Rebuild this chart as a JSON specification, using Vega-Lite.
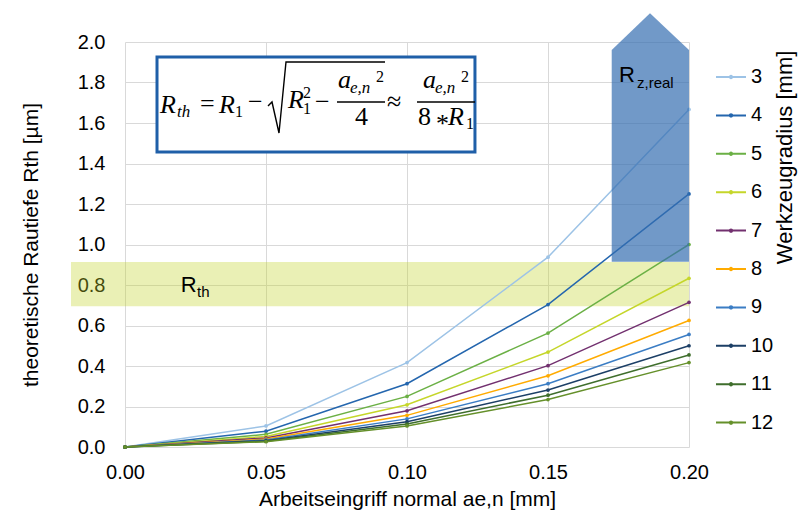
{
  "$schema": "https://vega.github.io/schema/vega-lite/v6.json",
  "autosize": {"type": "none"},
  "padding": {"left": 125, "top": 42, "right": 111, "bottom": 66},
  "width": 564,
  "height": 405,
  "background": "white",
  "config": {
    "view": {"stroke": null},
    "font": "Liberation Sans",
    "axis": {
      "labelFont": "Liberation Sans", "labelFontSize": 20, "labelColor": "#000000",
      "titleFont": "Liberation Sans", "titleFontSize": 21, "titleFontWeight": "normal", "titleColor": "#000000",
      "gridColor": "#d9d9d9", "gridWidth": 1, "domain": false, "ticks": false, "tickSize": 0,
      "labelOverlap": false, "labelFlush": false, "labelBound": false
    }
  },
  "datasets": {
    "lines": [
      {"x": 0, "y": 0, "R": 3}, {"x": 0.05, "y": 0.1042, "R": 3}, {"x": 0.1, "y": 0.4167, "R": 3}, {"x": 0.15, "y": 0.9375, "R": 3}, {"x": 0.2, "y": 1.6667, "R": 3},
      {"x": 0, "y": 0, "R": 4}, {"x": 0.05, "y": 0.0781, "R": 4}, {"x": 0.1, "y": 0.3125, "R": 4}, {"x": 0.15, "y": 0.7031, "R": 4}, {"x": 0.2, "y": 1.25, "R": 4},
      {"x": 0, "y": 0, "R": 5}, {"x": 0.05, "y": 0.0625, "R": 5}, {"x": 0.1, "y": 0.25, "R": 5}, {"x": 0.15, "y": 0.5625, "R": 5}, {"x": 0.2, "y": 1.0, "R": 5},
      {"x": 0, "y": 0, "R": 6}, {"x": 0.05, "y": 0.0521, "R": 6}, {"x": 0.1, "y": 0.2083, "R": 6}, {"x": 0.15, "y": 0.4688, "R": 6}, {"x": 0.2, "y": 0.8333, "R": 6},
      {"x": 0, "y": 0, "R": 7}, {"x": 0.05, "y": 0.0446, "R": 7}, {"x": 0.1, "y": 0.1786, "R": 7}, {"x": 0.15, "y": 0.4018, "R": 7}, {"x": 0.2, "y": 0.7143, "R": 7},
      {"x": 0, "y": 0, "R": 8}, {"x": 0.05, "y": 0.0391, "R": 8}, {"x": 0.1, "y": 0.1563, "R": 8}, {"x": 0.15, "y": 0.3516, "R": 8}, {"x": 0.2, "y": 0.625, "R": 8},
      {"x": 0, "y": 0, "R": 9}, {"x": 0.05, "y": 0.0347, "R": 9}, {"x": 0.1, "y": 0.1389, "R": 9}, {"x": 0.15, "y": 0.3125, "R": 9}, {"x": 0.2, "y": 0.5556, "R": 9},
      {"x": 0, "y": 0, "R": 10}, {"x": 0.05, "y": 0.0313, "R": 10}, {"x": 0.1, "y": 0.125, "R": 10}, {"x": 0.15, "y": 0.2813, "R": 10}, {"x": 0.2, "y": 0.5, "R": 10},
      {"x": 0, "y": 0, "R": 11}, {"x": 0.05, "y": 0.0284, "R": 11}, {"x": 0.1, "y": 0.1136, "R": 11}, {"x": 0.15, "y": 0.2557, "R": 11}, {"x": 0.2, "y": 0.4545, "R": 11},
      {"x": 0, "y": 0, "R": 12}, {"x": 0.05, "y": 0.026, "R": 12}, {"x": 0.1, "y": 0.1042, "R": 12}, {"x": 0.15, "y": 0.2344, "R": 12}, {"x": 0.2, "y": 0.4167, "R": 12}
    ],
    "band": [{"x": -0.01915, "x2": 0.2, "y": 0.6953, "y2": 0.9136}],
    "arrow": [
      {"x": 0.17259, "y": 1.96, "y2": 0.915},
      {"x": 0.18617, "y": 2.1417, "y2": 0.915},
      {"x": 0.2, "y": 1.96, "y2": 0.915}
    ],
    "box": [{"x": 0.01135, "x2": 0.1241, "y": 1.457, "y2": 1.926}],
    "bigR": [{"x": 0.17518, "y": 1.802, "t": "R"}, {"x": 0.0198, "y": 0.765, "t": "R"}],
    "subR": [{"x": 0.18156, "y": 1.773, "t": "z,real"}, {"x": 0.02553, "y": 0.742, "t": "th"}],
    "fBigI": [
      {"x": 0.01241, "y": 1.649, "t": "R"}, {"x": 0.03333, "y": 1.649, "t": "R"}, {"x": 0.0578, "y": 1.674, "t": "R"},
      {"x": 0.07553, "y": 1.7728, "t": "a"}, {"x": 0.10567, "y": 1.7728, "t": "a"}, {"x": 0.11454, "y": 1.59, "t": "R"}
    ],
    "fBigU": [
      {"x": 0.0266, "y": 1.654, "t": "="}, {"x": 0.04362, "y": 1.664, "t": "−"}, {"x": 0.06738, "y": 1.664, "t": "−"},
      {"x": 0.08156, "y": 1.59, "t": "4"}, {"x": 0.0929, "y": 1.664, "t": "≈"}, {"x": 0.1039, "y": 1.59, "t": "8"}, {"x": 0.11028, "y": 1.5556, "t": "*"}
    ],
    "fSmI": [
      {"x": 0.01844, "y": 1.63, "t": "th"}, {"x": 0.07979, "y": 1.748, "t": "e,n"}, {"x": 0.10993, "y": 1.748, "t": "e,n"}
    ],
    "fSmU": [
      {"x": 0.03901, "y": 1.6296, "t": "1"}, {"x": 0.06312, "y": 1.7235, "t": "2"}, {"x": 0.06312, "y": 1.6444, "t": "1"},
      {"x": 0.08901, "y": 1.8025, "t": "2"}, {"x": 0.11915, "y": 1.8025, "t": "2"}, {"x": 0.12092, "y": 1.5704, "t": "1"}
    ],
    "rad": [
      {"x": 0.05071, "y": 1.684, "o": 1}, {"x": 0.05213, "y": 1.7037, "o": 2}, {"x": 0.05461, "y": 1.5506, "o": 3},
      {"x": 0.05709, "y": 1.9012, "o": 4}, {"x": 0.0922, "y": 1.9012, "o": 5}
    ],
    "bars": [{"x": 0.07518, "x2": 0.0922, "y": 1.7037}, {"x": 0.10355, "x2": 0.12411, "y": 1.7037}],
    "ltitle": [{"x": 0.234, "y": 1.43, "t": "Werkzeugradius [mm]"}]
  },
  "encoding": {
    "x": {
      "field": "x", "type": "quantitative",
      "scale": {"domain": [0, 0.2], "nice": false, "zero": false},
      "axis": {"values": [0, 0.05, 0.1, 0.15, 0.2], "format": ".2f", "labelPadding": 15, "titlePadding": 6, "title": "Arbeitseingriff normal ae,n [mm]"}
    },
    "y": {
      "field": "y", "type": "quantitative",
      "scale": {"domain": [0, 2], "nice": false, "zero": false},
      "axis": {"values": [0, 0.2, 0.4, 0.6, 0.8, 1.0, 1.2, 1.4, 1.6, 1.8, 2.0], "format": ".1f", "labelPadding": 20, "titlePadding": 36, "title": "theoretische Rautiefe Rth [µm]"}
    }
  },
  "layer": [
    {
      "data": {"name": "band"},
      "mark": {"type": "rect", "color": "#c4d52a", "opacity": 0.35},
      "encoding": {"x2": {"field": "x2"}, "y2": {"field": "y2"}}
    },
    {
      "data": {"name": "lines"},
      "mark": {"type": "line", "strokeWidth": 1.5, "point": {"filled": true, "size": 14}},
      "encoding": {
        "color": {
          "field": "R", "type": "ordinal",
          "scale": {"domain": [3, 4, 5, 6, 7, 8, 9, 10, 11, 12],
                    "range": ["#9dc3e6", "#2466ae", "#6bb045", "#c5d62a", "#72306f", "#ffab00", "#3b7dc4", "#1c3f66", "#3f6e2c", "#65902a"]},
          "legend": {
            "title": null, "orient": "none", "legendX": 590, "legendY": 19, "padding": 0,
            "symbolType": "M-1,0H1M-0.08,0A0.08,0.08 0 1,1 0.08,0A0.08,0.08 0 1,1 -0.08,0",
            "symbolSize": 900, "symbolStrokeWidth": 2, "rowPadding": 12.4,
            "labelFont": "Liberation Sans", "labelFontSize": 20, "labelColor": "#000000", "labelOffset": 4
          }
        }
      }
    },
    {
      "data": {"name": "arrow"},
      "mark": {"type": "area", "color": "#356eb0", "opacity": 0.7},
      "encoding": {"y2": {"field": "y2"}}
    },
    {
      "data": {"name": "bigR"},
      "mark": {"type": "text", "align": "left", "baseline": "alphabetic", "font": "Liberation Sans", "fontSize": 22, "color": "#000000"},
      "encoding": {"text": {"field": "t"}}
    },
    {
      "data": {"name": "subR"},
      "mark": {"type": "text", "align": "left", "baseline": "alphabetic", "font": "Liberation Sans", "fontSize": 15, "color": "#000000"},
      "encoding": {"text": {"field": "t"}}
    },
    {
      "data": {"name": "box"},
      "mark": {"type": "rect", "fill": "white", "stroke": "#1f5fa8", "strokeWidth": 3},
      "encoding": {"x2": {"field": "x2"}, "y2": {"field": "y2"}}
    },
    {
      "data": {"name": "fBigI"},
      "mark": {"type": "text", "align": "left", "baseline": "alphabetic", "font": "Liberation Serif", "fontStyle": "italic", "fontSize": 26, "color": "#000000"},
      "encoding": {"text": {"field": "t"}}
    },
    {
      "data": {"name": "fBigU"},
      "mark": {"type": "text", "align": "left", "baseline": "alphabetic", "font": "Liberation Serif", "fontSize": 26, "color": "#000000"},
      "encoding": {"text": {"field": "t"}}
    },
    {
      "data": {"name": "fSmI"},
      "mark": {"type": "text", "align": "left", "baseline": "alphabetic", "font": "Liberation Serif", "fontStyle": "italic", "fontSize": 17, "color": "#000000"},
      "encoding": {"text": {"field": "t"}}
    },
    {
      "data": {"name": "fSmU"},
      "mark": {"type": "text", "align": "left", "baseline": "alphabetic", "font": "Liberation Serif", "fontSize": 16, "color": "#000000"},
      "encoding": {"text": {"field": "t"}}
    },
    {
      "data": {"name": "rad"},
      "mark": {"type": "line", "color": "#000000", "strokeWidth": 1.4},
      "encoding": {"order": {"field": "o", "type": "quantitative"}}
    },
    {
      "data": {"name": "bars"},
      "mark": {"type": "rule", "color": "#000000", "strokeWidth": 1.4},
      "encoding": {"x2": {"field": "x2"}}
    },
    {
      "data": {"name": "ltitle"},
      "mark": {"type": "text", "align": "center", "baseline": "middle", "angle": 270, "font": "Liberation Sans", "fontSize": 22, "color": "#000000"},
      "encoding": {"text": {"field": "t"}}
    }
  ]
}
